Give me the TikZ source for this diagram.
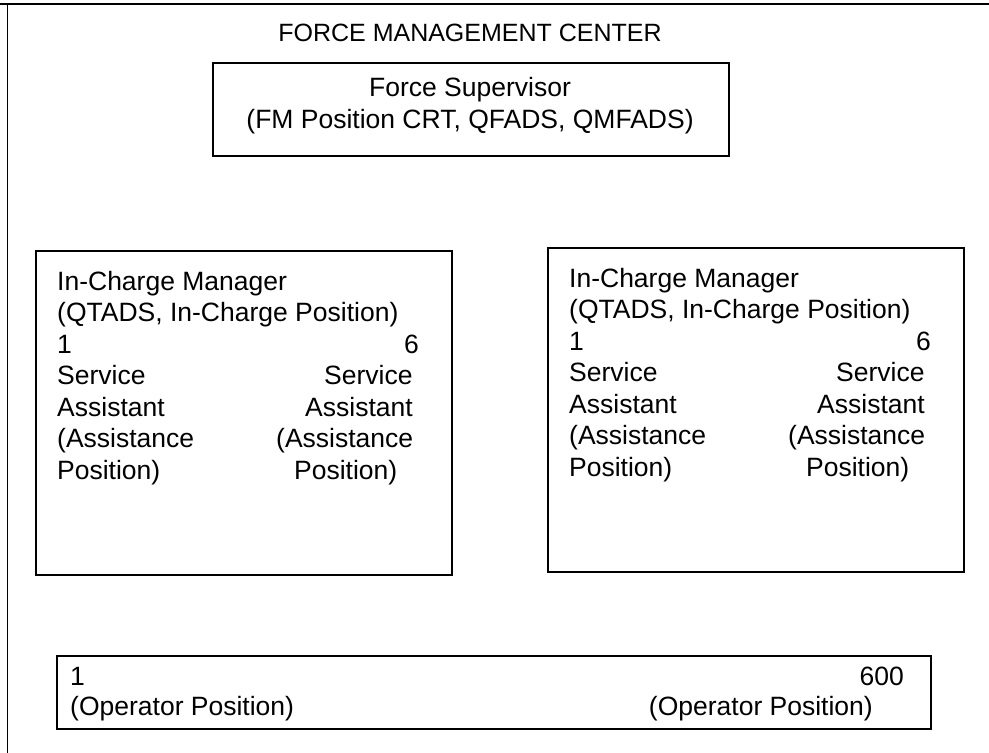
\documentclass[tikz,border=0pt]{standalone}
\usepackage{fontspec}
\setmainfont{Liberation Sans}
\usetikzlibrary{positioning}

\tikzset{
  unitbox/.style={draw, line width=1.6pt, inner sep=0pt, anchor=north west},
  txt/.style={inner sep=0pt, font=\fontsize{26.5}{31.5}\selectfont},
  headtxt/.style={inner sep=0pt, font=\fontsize{25}{30}\selectfont},
}

\begin{document}
\begin{tikzpicture}[x=1pt,y=-1pt]
  \useasboundingbox (0,0) rectangle (989,753);

  % page frame
  \draw[line width=1.5pt] (0,4) -- (989,4);
  \draw[line width=1.5pt] (7.5,4) -- (7.5,753);

  % center and supervisor
  \node[headtxt, anchor=base] (fmc) at (470,41) {FORCE MANAGEMENT CENTER};
  \node[unitbox, minimum width=516pt, minimum height=93pt] (super) at (212,62) {};
  \node[txt, anchor=base] (supname) at (470,96) {Force Supervisor};
  \node[txt, anchor=base] (supgear) at (470,128) {(FM Position CRT, QFADS, QMFADS)};

  % in-charge groups
  \foreach \nm/\bx/\by in {ica/35/250, icb/547/247} {
    \node[unitbox, minimum width=416pt, minimum height=324pt] (\nm) at (\bx,\by) {};
    \foreach \k/\t in {0/In-Charge Manager, 1/{(QTADS, In-Charge Position)}, 2/1,
                       3/Service, 4/Assistant, 5/{(Assistance}, 6/{Position)}} {
      \node[txt, anchor=base west] (\nm-l\k) at (\bx+22,\by+40+\k*31.5) {\t};
    }
    \node[txt, anchor=base east] (\nm-r2) at (\bx+384,\by+40+2*31.5) {6};
    \foreach \k/\dx/\t in {3/289/Service, 4/270/Assistant, 5/241/{(Assistance}, 6/259/{Position)}} {
      \node[txt, anchor=base west] (\nm-r\k) at (\bx+\dx,\by+40+\k*31.5) {\t};
    }
  }

  % operators
  \node[unitbox, minimum width=874pt, minimum height=73pt] (ops) at (56,655) {};
  \node[txt, anchor=base west] (opfirst) at (70,685) {1};
  \node[txt, anchor=base west] (opfirstpos) at (70,715) {(Operator Position)};
  \node[txt, anchor=base east] (oplast) at (904,685) {600};
  \node[txt, anchor=base east] (oplastpos) at (873,715) {(Operator Position)};
\end{tikzpicture}
\end{document}
